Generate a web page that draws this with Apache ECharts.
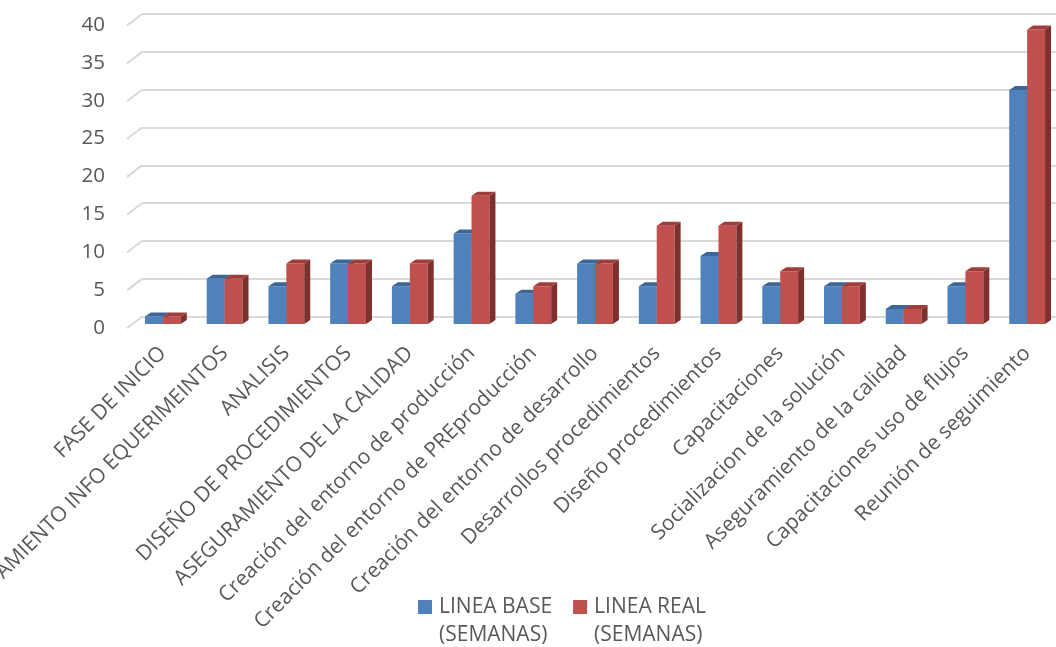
<!DOCTYPE html>
<html>
<head>
<meta charset="utf-8">
<script src="https://cdn.jsdelivr.net/npm/echarts@6/dist/echarts.min.js"></script>
<style>html,body{margin:0;background:#fff}#chart{width:1056px;height:647px}</style>
</head>
<body>
<div id="chart"></div>
<script>
// tareas del proyecto
const categories = [
  'FASE DE INICIO',
  'LEVANTAMIENTO INFO EQUERIMEINTOS',
  'ANALISIS',
  'DISEÑO DE PROCEDIMIENTOS',
  'ASEGURAMIENTO DE LA CALIDAD',
  'Creación del entorno de producción',
  'Creación del entorno de PREproducción',
  'Creación del entorno de desarrollo',
  'Desarrollos procedimientos',
  'Diseño procedimientos',
  'Capacitaciones',
  'Socializacion de la solución',
  'Aseguramiento de la calidad',
  'Capacitaciones uso de flujos',
  'Reunión de seguimiento'
];
const lineaBase = [1, 6, 5, 8, 5, 12, 4, 8, 5, 9, 5, 5, 2, 5, 31];
const lineaReal = [1, 6, 8, 8, 8, 17, 5, 8, 13, 13, 7, 5, 2, 7, 39];
const yTicks = [0, 5, 10, 15, 20, 25, 30, 35, 40];

const txt = '#595959';
const font = "'Open Sans', sans-serif";

const chart = echarts.init(document.getElementById('chart'));

// barra con cara frontal, superior y lateral (efecto 3D tipo Excel)
function bar3d(col, side) {
  return function (params, api) {
    const i = api.value(0);
    const top = api.coord([i, api.value(1)]);
    const base = api.coord([i, 0]);
    const w = api.size([1, 0])[0] * 0.29;
    const x0 = side === 0 ? top[0] - w : top[0];
    const x1 = x0 + w;
    const y0 = top[1], y1 = base[1];
    const dx = 6, dy = -4;
    return {
      type: 'group',
      children: [
        { type: 'rect', shape: { x: x0, y: y0, width: w, height: y1 - y0 }, style: { fill: col[0] } },
        { type: 'polygon', shape: { points: [[x1, y0], [x1 + dx, y0 + dy], [x1 + dx, y1 + dy], [x1, y1]] }, style: { fill: col[2] } },
        { type: 'polygon', shape: { points: [[x0, y0], [x0 + dx, y0 + dy], [x1 + dx, y0 + dy], [x1, y0]] }, style: { fill: col[1] } }
      ]
    };
  };
}

// pequeñas diagonales a la izquierda de cada línea de cuadrícula
function stub(params, api) {
  const p = api.coord([0, api.value(0)]);
  return {
    type: 'line',
    shape: { x1: p[0] - 15, y1: p[1] + 11.5, x2: p[0], y2: p[1] },
    style: { stroke: '#d9d9d9', lineWidth: 2 }
  };
}

const option = {
  backgroundColor: '#fff',
  textStyle: { fontFamily: font },
  grid: [
    { left: 132, top: 22, width: 926, height: 302, outerBoundsMode: 'none', containLabel: false },   // plano de las barras
    { left: 142, top: 14, right: 0, height: 302.7, outerBoundsMode: 'none', containLabel: false },   // pared del fondo
    { left: 127, top: 25, width: 900, height: 303, outerBoundsMode: 'none', containLabel: false }    // plano frontal (etiquetas)
  ],
  xAxis: [
    {
      gridIndex: 0, type: 'category', data: categories,
      axisLine: { show: false }, axisTick: { show: false },
      axisLabel: { interval: 0, rotate: 45, margin: 26, color: txt, fontSize: 21, fontFamily: font }
    },
    { gridIndex: 1, type: 'value', min: 0, max: 1, show: false },
    { gridIndex: 2, type: 'value', min: 0, max: 1, show: false }
  ],
  yAxis: [
    { gridIndex: 0, type: 'value', min: 0, max: 40, interval: 5, show: false },
    {
      gridIndex: 1, type: 'value', min: 0, max: 40, interval: 5,
      axisLabel: { show: false }, axisLine: { show: false }, axisTick: { show: false },
      splitLine: { lineStyle: { color: '#d9d9d9', width: 2 } }
    },
    {
      gridIndex: 2, type: 'value', min: 0, max: 40, interval: 5,
      axisLine: { show: false }, axisTick: { show: false }, splitLine: { show: false },
      axisLabel: { color: txt, fontSize: 20.5, margin: 22, fontFamily: font }
    }
  ],
  legend: {
    left: 418, top: 565, padding: 0,
    itemWidth: 14, itemHeight: 14, itemGap: 21,
    icon: 'rect',
    data: ['LINEA BASE\n(SEMANAS)', 'LINEA REAL\n(SEMANAS)'],
    formatter: name => '\n' + name,
    textStyle: { color: txt, fontSize: 21, lineHeight: 28, padding: [0, 0, 0, 2], fontFamily: font }
  },
  series: [
    {
      type: 'custom', xAxisIndex: 1, yAxisIndex: 1, silent: true,
      data: yTicks.map(v => [v]), encode: { y: 0 },
      renderItem: stub
    },
    {
      name: 'LINEA BASE\n(SEMANAS)', type: 'custom',
      itemStyle: { color: '#4f81bd' },
      data: lineaBase.map((v, i) => [i, v]), encode: { x: 0, y: 1 },
      renderItem: bar3d(['#4f81bd', '#3b6698', '#385d8a'], 0)
    },
    {
      name: 'LINEA REAL\n(SEMANAS)', type: 'custom',
      itemStyle: { color: '#c0504d' },
      data: lineaReal.map((v, i) => [i, v]), encode: { x: 0, y: 1 },
      renderItem: bar3d(['#c0504d', '#9e3d3a', '#7d302e'], 1)
    }
  ]
};

chart.setOption(option);
</script>
</body>
</html>
